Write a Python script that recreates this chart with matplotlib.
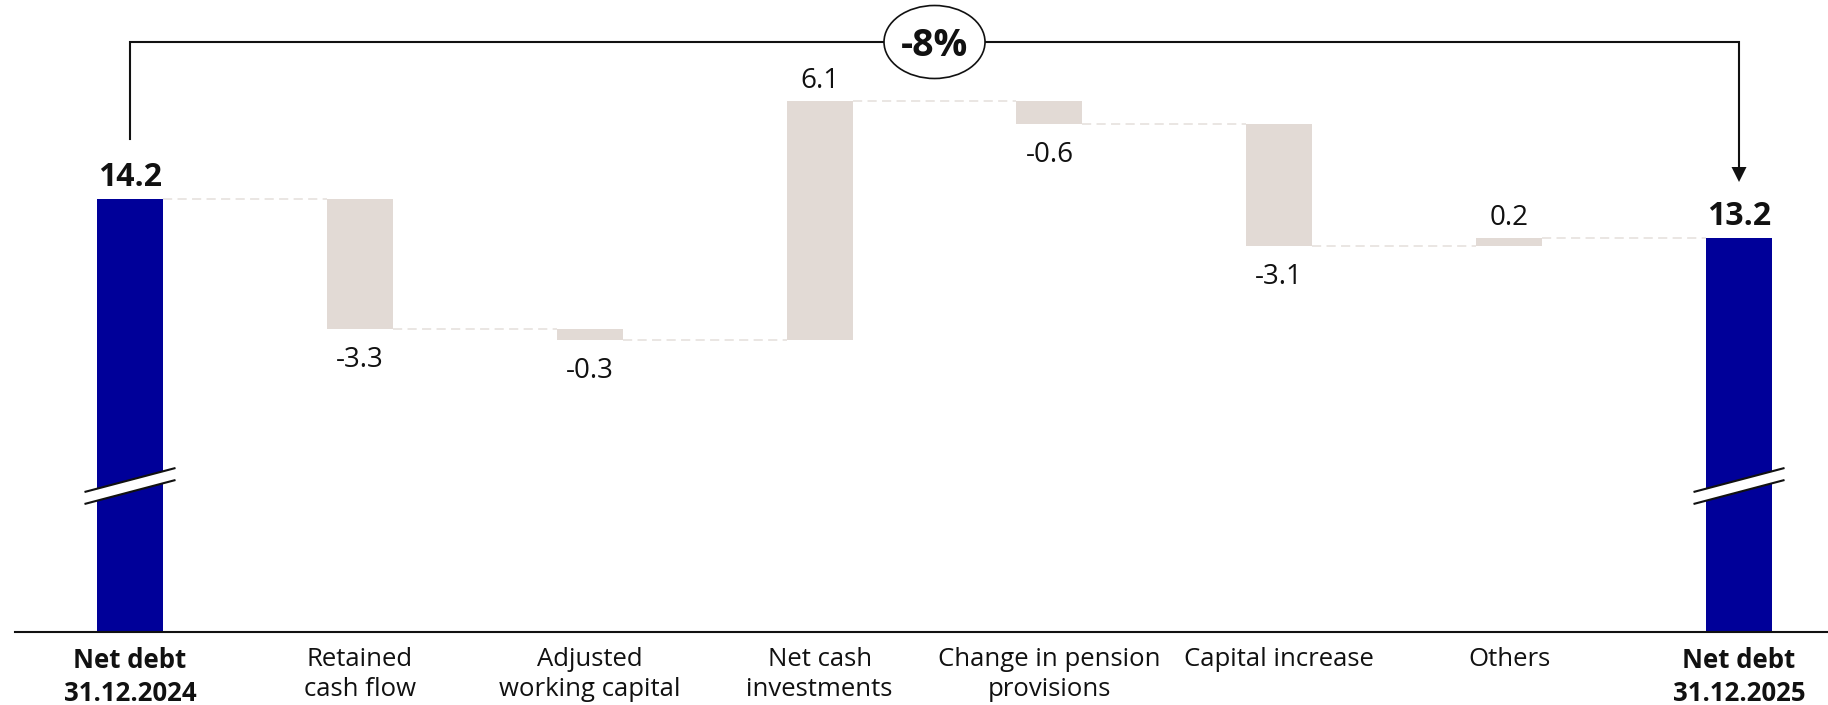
import matplotlib
matplotlib.use("Agg")
import matplotlib.pyplot as plt
from matplotlib.patches import Ellipse, Polygon
import numpy as np

# ---------------- data ----------------
categories = ["Net debt\n31.12.2024", "Retained\ncash flow", "Adjusted\nworking capital",
              "Net cash\ninvestments", "Change in pension\nprovisions", "Capital increase",
              "Others", "Net debt\n31.12.2025"]
values = [14.2, -3.3, -0.3, 6.1, -0.6, -3.1, 0.2, 13.2]
is_total = [True, False, False, False, False, False, False, True]
value_labels = ["14.2", "-3.3", "-0.3", "6.1", "-0.6", "-3.1", "0.2", "13.2"]
change_label = "-8%"

# ---------------- style ----------------
FONT = ["Open Sans", "DejaVu Sans"]
plt.rcParams["font.family"] = FONT
NAVY = "#000099"
GREY = "#E2DAD5"
CONN = "#E4DFDB"
BLACK = "#111111"

W, H = 1828, 705
fig = plt.figure(figsize=(W / 100, H / 100), dpi=100)
base_px = 632          # pixel row of the baseline
ppu = 39.3             # pixels per unit
y_top = 19.26          # value at top of figure
step = 229.86          # pixels between categories
x0_px = 130            # pixel x of first category

ax = fig.add_axes([0, (H - base_px) / H, 1, base_px / H])
ax.set_ylim(y_top - base_px / ppu, y_top)
ax.set_xlim(-x0_px / step, (W - x0_px) / step)
for s in ax.spines.values():
    s.set_visible(False)
ax.set_yticks([])


def vpx(ypx):
    """value at pixel row ypx (from top)"""
    return y_top - ypx / ppu


def xpx(dx):
    return dx / step


# ---------------- waterfall geometry ----------------
x = np.arange(len(values))
bottoms, heights, levels = [], [], []
running = 0.0
for v, t in zip(values, is_total):
    if t:
        bottoms.append(0.0)
        heights.append(v)
        running = v
    else:
        lo = min(running, running + v)
        bottoms.append(lo)
        heights.append(abs(v))
        running += v
    levels.append(running)

bw = xpx(66)
colors = [NAVY if t else GREY for t in is_total]
ax.bar(x, heights, bottom=bottoms, width=bw, color=colors, linewidth=0, zorder=2)

# connectors
for i in range(len(values) - 1):
    ax.plot([x[i] + bw / 2, x[i + 1] - bw / 2], [levels[i], levels[i]],
            color=CONN, lw=1.1, ls=(0, (6, 3.5)), zorder=1)

# value labels
for i, (v, t, lab) in enumerate(zip(values, is_total, value_labels)):
    top = bottoms[i] + heights[i]
    if t or v > 0:
        ax.annotate(lab, (x[i], top), xytext=(0, 13), textcoords="offset pixels",
                    ha="center", va="baseline",
                    fontsize=23 if t else 20,
                    fontweight="bold" if t else "normal", color=BLACK)
    else:
        ax.annotate(lab, (x[i], bottoms[i]), xytext=(0, -38), textcoords="offset pixels",
                    ha="center", va="baseline", fontsize=20, color=BLACK)

# axis break marks on totals
for i, t in enumerate(is_total):
    if not t:
        continue
    xc = x[i]
    hw = xpx(45.5)
    ul = (xc - hw, vpx(492)); ur = (xc + hw, vpx(468))
    lr = (xc + hw, vpx(480)); ll = (xc - hw, vpx(504))
    ax.add_patch(Polygon([ul, ur, lr, ll], closed=True, facecolor="white",
                         edgecolor="none", zorder=3))
    ax.plot([ul[0], ur[0]], [ul[1], ur[1]], color=BLACK, lw=1.5, zorder=4,
            solid_capstyle="butt")
    ax.plot([ll[0], lr[0]], [ll[1], lr[1]], color=BLACK, lw=1.5, zorder=4,
            solid_capstyle="butt")

# baseline
ax.plot([15 / W, 1], [0, 0], transform=ax.transAxes, color=BLACK, lw=1.5,
        clip_on=False, zorder=5)

# bracket with change annotation
xa, xb = x[0], x[-1]
yb = vpx(42)
ax.plot([xa, xa, xb, xb], [vpx(139), yb, yb, vpx(168)], color=BLACK, lw=1.5,
        solid_joinstyle="miter", zorder=5)
ax.add_patch(Polygon([(xb - xpx(7.5), vpx(167)), (xb + xpx(7.5), vpx(167)),
                      (xb, vpx(182))], closed=True, facecolor=BLACK,
                     edgecolor="none", zorder=5))
xm = (xa + xb) / 2
ax.add_patch(Ellipse((xm, yb), width=xpx(101), height=73 / ppu, facecolor="white",
                     edgecolor=BLACK, lw=1.2, zorder=6))
ax.text(xm, yb, change_label, ha="center", va="center_baseline", fontsize=27,
        fontweight="bold", color=BLACK, zorder=7)

# category labels
ax.set_xticks(x)
ax.set_xticklabels(categories, fontsize=18.5, linespacing=1.25, color=BLACK)
ax.tick_params(axis="x", length=0, pad=11)
for lab, t in zip(ax.get_xticklabels(), is_total):
    if t:
        lab.set_fontweight("bold")

fig.savefig("out.png", dpi=100)
